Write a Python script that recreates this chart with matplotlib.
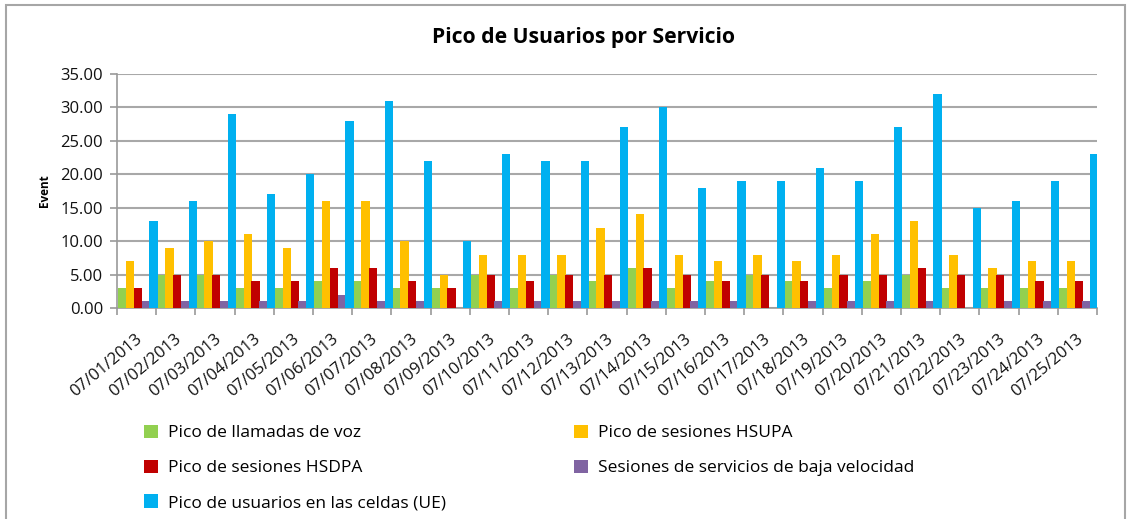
import matplotlib
matplotlib.use("Agg")
import matplotlib.pyplot as plt
import matplotlib.transforms as mtrans
import numpy as np
from matplotlib.patches import Rectangle

dates = ["07/%02d/2013" % d for d in range(1, 26)]
voz   = [3, 5, 5, 3, 3, 4, 4, 3, 3, 5, 3, 5, 4, 6, 3, 4, 5, 4, 3, 4, 5, 3, 3, 3, 3]
hsupa = [7, 9, 10, 11, 9, 16, 16, 10, 5, 8, 8, 8, 12, 14, 8, 7, 8, 7, 8, 11, 13, 8, 6, 7, 7]
hsdpa = [3, 5, 5, 4, 4, 6, 6, 4, 3, 5, 4, 5, 5, 6, 5, 4, 5, 4, 5, 5, 6, 5, 5, 4, 4]
baja  = [1, 1, 1, 1, 1, 2, 1, 1, 0, 1, 1, 1, 1, 1, 1, 1, 0, 1, 1, 1, 1, 0, 1, 1, 1]
ue    = [13, 16, 29, 17, 20, 28, 31, 22, 10, 23, 22, 22, 27, 30, 18, 19, 19, 21, 19, 27, 32, 15, 16, 19, 23]

names = ["Pico de llamadas de voz", "Pico de sesiones HSUPA", "Pico de sesiones HSDPA",
         "Sesiones de servicios de baja velocidad", "Pico de usuarios en las celdas (UE)"]
colors = ["#92D050", "#FFC000", "#C00000", "#8064A2", "#00B0F0"]
series = [voz, hsupa, hsdpa, baja, ue]

plt.rcParams['font.family'] = ['Open Sans', 'DejaVu Sans']

W, H = 1128, 519
fig = plt.figure(figsize=(W / 100, H / 100), dpi=100)
ax = fig.add_axes([117 / W, 1 - 308 / H, (1097 - 117) / W, (308 - 74) / H])

x = np.arange(len(dates))
offsets = [-0.36, -0.163, 0.035, 0.232, 0.43]
bars = []
for s, c, off, n in zip(series, colors, offsets, names):
    b = ax.bar(x + off, s, width=0.21, color=c, label=n, zorder=3)
    bars.append(b)

ax.set_xlim(-0.5, len(dates) - 0.5)
ax.set_ylim(0, 35)
ax.set_yticks(np.arange(0, 36, 5))
ax.set_yticklabels(["%.2f" % v for v in np.arange(0, 36, 5)], fontsize=12, color="#111111")
ax.yaxis.grid(True, color="#A8A8A8", linewidth=1.5, zorder=0)
ax.set_axisbelow(True)

ax.set_xticks(np.arange(-0.5, len(dates), 1.0))
ax.set_xticklabels([])
ax.set_xticks(x, minor=True)
ax.set_xticklabels(dates, minor=True, rotation=40, ha="right", va="center",
                   rotation_mode="anchor", fontsize=12, color="#111111")
ax.tick_params(axis="x", which="minor", length=0, pad=21)
ax.tick_params(axis="x", which="major", length=5, color="#9A9A9A", width=1.2)
ax.tick_params(axis="y", length=5, color="#9A9A9A", width=1.2, pad=5)
shift = mtrans.ScaledTranslation(4 / 100, 0, fig.dpi_scale_trans)
for lab in ax.get_xticklabels(minor=True):
    lab.set_transform(lab.get_transform() + shift)

for sp in ["top", "right"]:
    ax.spines[sp].set_visible(False)
ax.spines["left"].set_color("#9A9A9A")
ax.spines["bottom"].set_color("#9A9A9A")
ax.spines["left"].set_linewidth(1.2)
ax.spines["bottom"].set_linewidth(1.2)

ax.set_ylabel("Event", fontsize=8.5, fontweight="bold", labelpad=7)

fig.text(583 / W, 1 - 37 / H, "Pico de Usuarios por Servicio", ha="center", va="center",
         fontsize=15.2, fontweight="bold", color="#000000")

legkw = dict(loc="upper left", frameon=False, fontsize=12.5, handlelength=0.8,
             handleheight=0.8, handletextpad=0.6, labelspacing=1.05, borderpad=0)
leg1 = fig.legend([bars[0], bars[2], bars[4]], [names[0], names[2], names[4]],
                  bbox_to_anchor=(135 / W, 1 - 416 / H), **legkw)
leg2 = fig.legend([bars[1], bars[3]], [names[1], names[3]],
                  bbox_to_anchor=(565 / W, 1 - 416 / H), **legkw)

fig.patches.append(Rectangle((6 / W, -0.05), (1125 - 6) / W, 1.05 - 4.5 / H,
                             transform=fig.transFigure, fill=False,
                             edgecolor="#A6A6A6", linewidth=1.5))

fig.savefig("out.png", dpi=100)
